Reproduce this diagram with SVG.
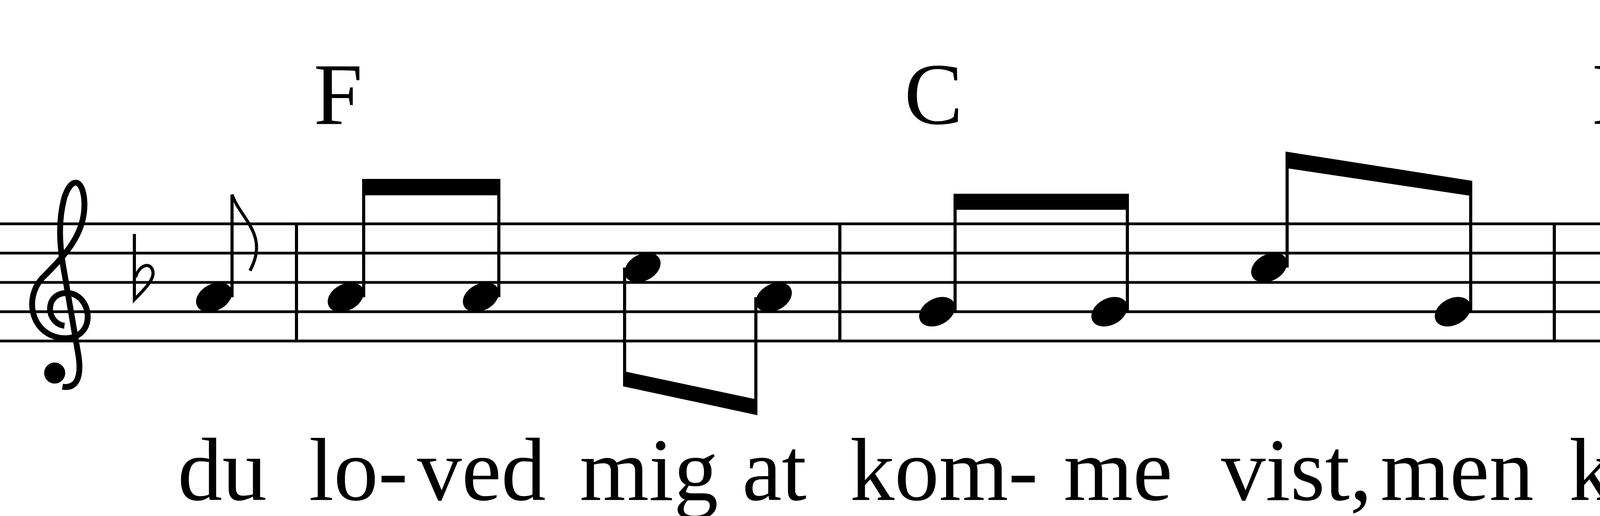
<svg xmlns="http://www.w3.org/2000/svg" width="6205" height="1321" viewBox="0 0 6205 1321">
<style>
.st{stroke:#000;stroke-width:8;fill:none}
.sl{stroke:#000;stroke-width:7}
.bar{stroke:#000;stroke-width:8}
.hd{fill:#000}
.txt{font-family:"Liberation Serif",serif;fill:#000}
.chord{font-size:225px}
.lyr{font-size:228px}
</style>
<defs>
<ellipse id="h" cx="0" cy="0" rx="49" ry="34" transform="rotate(-28)" class="hd"/>
</defs>
<rect width="6205" height="1321" fill="#fff"/>
<g id="staff">
<line class="sl" x1="0" y1="573" x2="6200" y2="573"/>
<line class="sl" x1="0" y1="648" x2="6200" y2="648"/>
<line class="sl" x1="0" y1="723" x2="6200" y2="723"/>
<line class="sl" x1="0" y1="798" x2="6200" y2="798"/>
<line class="sl" x1="0" y1="873" x2="6200" y2="873"/>
<line class="bar" x1="759" y1="573" x2="759" y2="873"/>
<line class="bar" x1="2150" y1="573" x2="2150" y2="873"/>
<line class="bar" x1="3979" y1="573" x2="3979" y2="873"/>
<line class="bar" x1="5356" y1="573" x2="5356" y2="873"/>
<line class="bar" x1="6198" y1="573" x2="6198" y2="873"/>
</g>
<g id="clef">
<path d="M165,834 C118,828 112,752 170,750 C235,750 250,862 170,866 C80,866 55,760 115,705 C170,650 225,590 215,505 C208,455 182,455 165,505 C150,560 150,620 165,700 L200,905 C212,975 190,995 160,990" stroke="#000" stroke-width="15" fill="none"/>
<circle cx="140" cy="955" r="27"/>
<path d="M344,599 L344,767 C370,740 400,712 390,690 C382,670 355,680 347,710" stroke="#000" stroke-width="8" fill="none"/>
</g>
<g id="notes">
<use href="#h" x="548" y="761"/>
<line class="st" x1="594" y1="761" x2="594" y2="498"/>
<path d="M594,498 C615,560 690,600 640,693" stroke="#000" stroke-width="8" fill="none"/>
<use href="#h" x="885" y="761"/>
<use href="#h" x="1231" y="761"/>
<line class="st" x1="931" y1="761" x2="931" y2="470"/>
<line class="st" x1="1277" y1="761" x2="1277" y2="470"/>
<polygon points="927,458 1281,458 1281,500 927,500"/>
<use href="#h" x="1645" y="685"/>
<use href="#h" x="1981" y="761"/>
<line class="st" x1="1599" y1="685" x2="1599" y2="980"/>
<line class="st" x1="1935" y1="761" x2="1935" y2="1050"/>
<polygon points="1595,950 1939,1023 1939,1063 1595,989"/>
<use href="#h" x="2399" y="798"/>
<use href="#h" x="2840" y="798"/>
<line class="st" x1="2445" y1="798" x2="2445" y2="510"/>
<line class="st" x1="2886" y1="798" x2="2886" y2="510"/>
<polygon points="2441,496 2890,496 2890,537 2441,537"/>
<use href="#h" x="3249" y="685"/>
<use href="#h" x="3719" y="798"/>
<line class="st" x1="3295" y1="685" x2="3295" y2="400"/>
<line class="st" x1="3765" y1="798" x2="3765" y2="475"/>
<polygon points="3291,388 3769,463 3769,502 3291,430"/>
<use href="#h" x="4192" y="836"/>
<use href="#h" x="4623" y="836"/>
<line class="st" x1="4238" y1="836" x2="4238" y2="545"/>
<line class="st" x1="4669" y1="836" x2="4669" y2="545"/>
<polygon points="4234,534 4673,534 4673,576 4234,576"/>
<use href="#h" x="4936" y="648"/>
<use href="#h" x="5181" y="648"/>
<line class="st" x1="4890" y1="648" x2="4890" y2="940"/>
<line class="st" x1="5135" y1="648" x2="5135" y2="940"/>
<polygon points="4886,910 5139,910 5139,949 4886,949"/>
<use href="#h" x="5574" y="685"/>
<line class="st" x1="5528" y1="685" x2="5528" y2="948"/>
<circle cx="5672" cy="685" r="10"/>
<use href="#h" x="6030" y="723"/>
<line class="st" x1="5984" y1="723" x2="5984" y2="984"/>
<path d="M5985,980 C6010,930 6075,890 6032,788" stroke="#000" stroke-width="8" fill="none"/>
</g>
<g id="chords" class="txt chord">
<text x="803" y="317">F</text>
<text x="2315" y="317">C</text>
<text x="4076" y="317">Dm</text>
<text x="4836" y="317">G</text>
<text x="4986" y="132" font-size="190">7</text>
<text x="5493" y="317">C</text>
</g>
<g id="lyrics" class="txt lyr">
<text x="455" y="1280">du</text>
<text x="791" y="1280">lo-</text>
<text x="1068" y="1280">ved</text>
<text x="1484" y="1280">mig</text>
<text x="1900" y="1280">at</text>
<text x="2176" y="1280">kom-</text>
<text x="2723" y="1280">me</text>
<text x="3126" y="1280">vist,</text>
<text x="3534" y="1280">men</text>
<text x="4017" y="1280">kom</text>
<text x="4484" y="1280">dog</text>
<text x="4860" y="1280">ej</text>
<text x="5117" y="1280">til</text>
<text x="5402" y="1280">mig,</text>
<text x="5916" y="1280">du</text>
</g>
</svg>
